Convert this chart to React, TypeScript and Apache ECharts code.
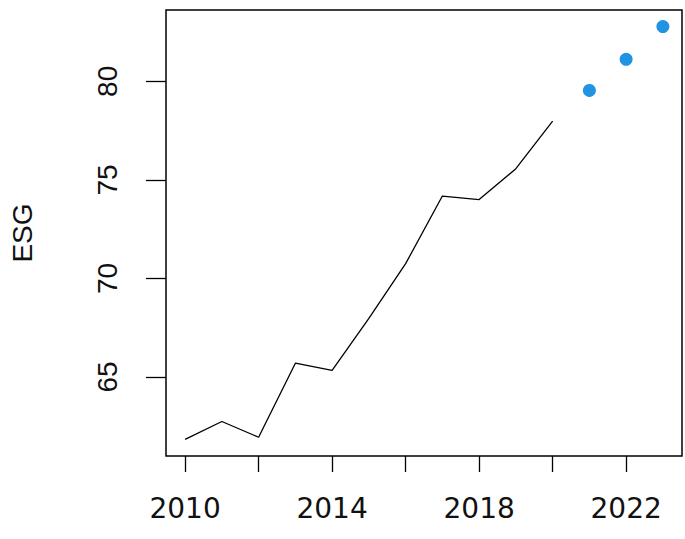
import React, { useEffect, useRef } from "react";
import * as echarts from "echarts";

const years = [2010, 2011, 2012, 2013, 2014, 2015, 2016, 2017, 2018, 2019, 2020];
const esg = [61.83, 62.74, 61.94, 65.7, 65.33, 67.97, 70.75, 74.18, 74.0, 75.57, 77.98];
const forecastYears = [2021, 2022, 2023];
const forecastEsg = [79.54, 81.12, 82.78];
const xTicks = [2010, 2012, 2014, 2016, 2018, 2020, 2022];
const xLabels = [2010, 2014, 2018, 2022];
const yTicks = [65, 70, 75, 80];

export default function App() {
  const ref = useRef<HTMLDivElement>(null);
  useEffect(() => {
    const chart = echarts.init(ref.current!, null, { renderer: "svg" });
    chart.setOption({
      animation: false,
      backgroundColor: "#ffffff",
      grid: {
        left: 166,
        top: 10,
        right: 3,
        bottom: 83,
        show: true,
        borderColor: "#000",
        borderWidth: 1.5,
        backgroundColor: "transparent",
      },
      xAxis: {
        type: "value",
        min: 2009.48,
        max: 2023.52,
        axisLine: { show: false },
        splitLine: { show: false },
        axisTick: {
          show: true,
          customValues: xTicks,
          length: 16,
          lineStyle: { color: "#000", width: 1.3 },
        },
        axisLabel: {
          customValues: xLabels,
          fontSize: 28,
          fontFamily: "DejaVu Sans",
          color: "#111",
          margin: 38,
          formatter: (v: number) => String(v),
        },
      },
      yAxis: {
        type: "value",
        min: 60.99,
        max: 83.62,
        name: "ESG",
        nameLocation: "middle",
        nameRotate: 90,
        nameGap: 130,
        nameTextStyle: { fontSize: 28, fontFamily: "Liberation Sans", color: "#111" },
        axisLine: { show: false },
        splitLine: { show: false },
        axisTick: {
          show: true,
          customValues: yTicks,
          length: 20,
          lineStyle: { color: "#000", width: 1.3 },
        },
        axisLabel: {
          customValues: yTicks,
          rotate: 90,
          fontSize: 28,
          fontFamily: "Liberation Sans",
          color: "#111",
          margin: 45,
        },
      },
      series: [
        {
          type: "line",
          data: years.map((y, i) => [y, esg[i]]),
          showSymbol: false,
          symbol: "none",
          lineStyle: { color: "#000", width: 1.3 },
        },
        {
          type: "scatter",
          data: forecastYears.map((y, i) => [y, forecastEsg[i]]),
          symbol: "circle",
          symbolSize: 13,
          itemStyle: { color: "#2193E3", opacity: 1 },
        },
      ],
    });
    return () => chart.dispose();
  }, []);
  return (
    <div
      ref={ref}
      style={{ position: "fixed", left: 0, top: 0, width: 685, height: 539 }}
    />
  );
}
